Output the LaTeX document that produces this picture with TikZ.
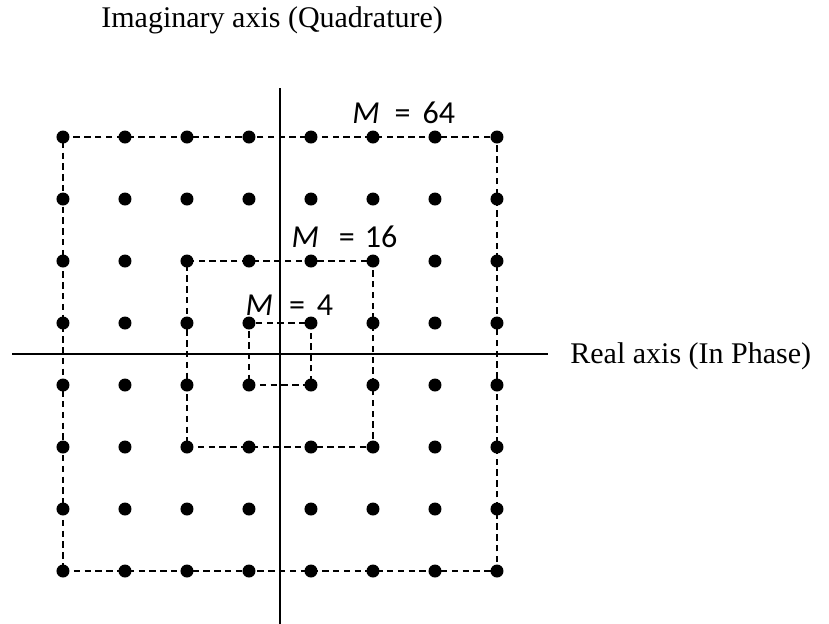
\documentclass[tikz,border=0pt]{standalone}
\usepackage{fontspec}
\setmainfont{Liberation Serif}
\newfontfamily\labelfont{Carlito}
\usetikzlibrary{positioning}

\tikzset{
    dot/.style={circle, fill=black, inner sep=0pt, minimum size=6.5pt},
    frame/.style={dashed, dash pattern=on 3.2pt off 2.2pt, line width=0.8pt},
    axis/.style={line width=1.3pt},
    mlabel/.style={anchor=base west, inner sep=0pt, font=\labelfont\fontsize{16}{19}\selectfont},
    axislabel/.style={anchor=base west, inner sep=0pt, font=\fontsize{15}{18}\selectfont}
}

\begin{document}
\begin{tikzpicture}
    [
    x=31pt, y=31pt
    ]
    
    %Rahmen
    \useasboundingbox (-4.516,-4.339) rectangle (8.855,5.71);
    
    %Achsen
    \coordinate (xl) at (-4.32,0);
    \coordinate (xr) at (4.32,0);
    \coordinate (yb) at (0,-4.4);
    \coordinate (yt) at (0,4.29);
    \draw[axis] (xl) -- (xr);
    \draw[axis] (yb) -- (yt);
    
    %Punkte
    \foreach \i in {0,...,7}
    \foreach \j in {0,...,7}
    \node[dot] (p\i\j) at (\i-3.5,\j-3.5) {};
    
    %M = 64
    \draw[frame] (p00.center) -- (p70.center) -- (p77.center) -- (p07.center) -- cycle;
    %M = 16
    \draw[frame] (p22.center) -- (p52.center) -- (p55.center) -- (p25.center) -- cycle;
    %M = 4
    \draw[frame] (p33.center) -- (p43.center) -- (p44.center) -- (p34.center) -- cycle;
    
    %Beschriftung
    \node[mlabel] (m64) at (1.16,3.726) {\textit{M}\hspace{7.5pt}=\hspace{6pt}64};
    \node[mlabel] (m16) at (0.18,1.726) {\textit{M}\hspace{10pt}=\hspace{5pt}16};
    \node[mlabel] (m4) at (-0.56,0.629) {\textit{M}\hspace{8pt}=\hspace{6pt}4};
    
    \node[axislabel] (re) at (4.677,-0.145) {Real axis (In Phase)};
    \node[axislabel] (im) at (-2.887,5.274) {Imaginary axis (Quadrature)};
\end{tikzpicture}
\end{document}
